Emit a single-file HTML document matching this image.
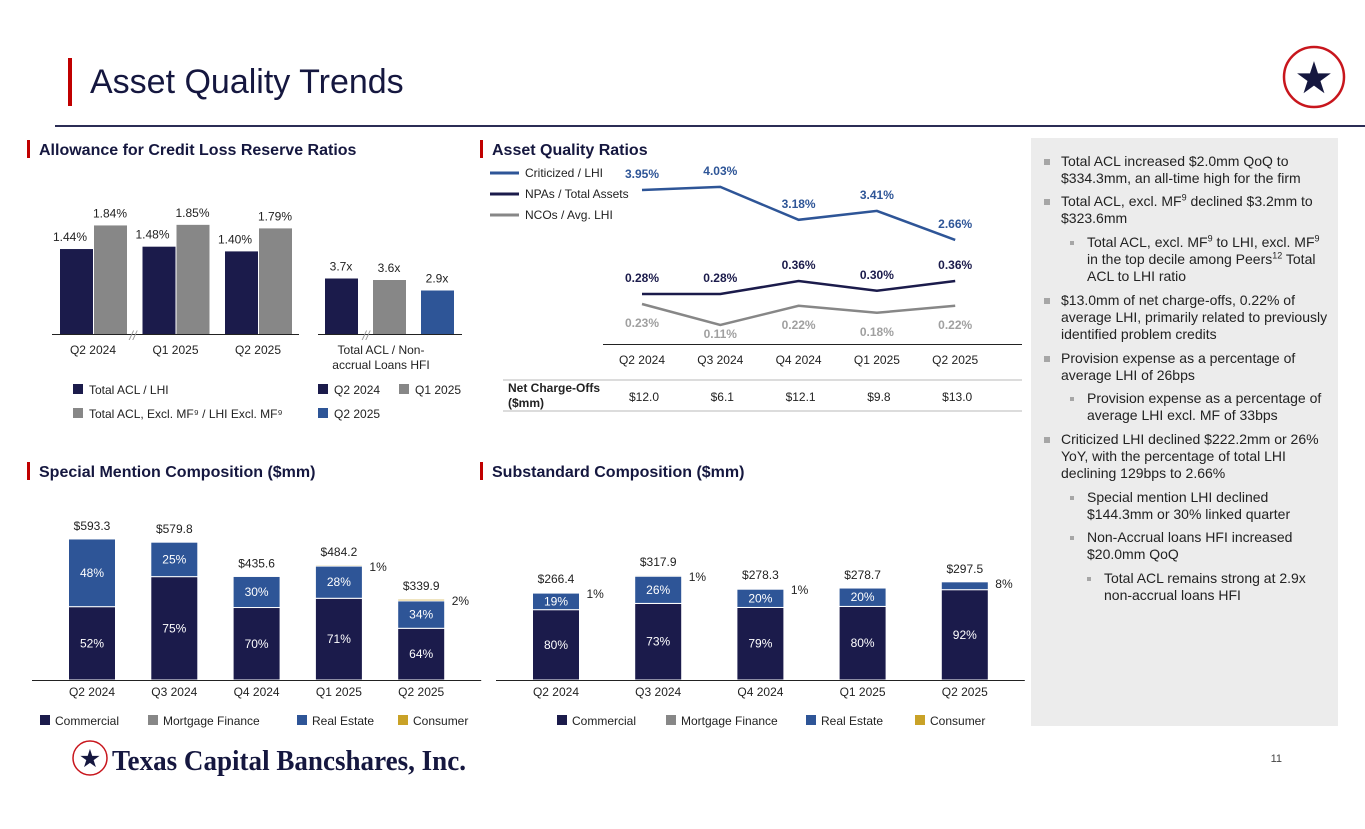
<!DOCTYPE html>
<html><head><meta charset="utf-8"><style>
html,body{margin:0;padding:0;background:#fff;}
body{width:1365px;height:829px;position:relative;overflow:hidden;font-family:"Liberation Sans",Arial,sans-serif;}
svg{position:absolute;left:0;top:0;}
.panel{position:absolute;left:1031px;top:138px;width:307px;height:588px;background:#ececec;}
.b{position:absolute;font-size:14px;line-height:17px;color:#222;}
.b:before{content:"";position:absolute;width:6px;height:6px;background:#a6a6a6;top:6px;}
.l1{left:30px;width:272px;} .l1:before{left:-17px;}
.l2{left:56px;width:246px;} .l2:before{left:-17px;width:4px;height:4px;top:7px;}
.l3{left:73px;width:230px;} .l3:before{left:-17px;width:4px;height:4px;top:7px;}
sup{font-size:9px;line-height:0;}
</style></head><body>
<svg id="s" width="1365" height="829" viewBox="0 0 1365 829" font-family="Liberation Sans, Arial, sans-serif">
  <rect x="68" y="58" width="4" height="48" fill="#c00000"/>
  <text x="90" y="93" font-size="34" fill="#15173f">Asset Quality Trends</text>
  <line x1="55" y1="126" x2="1365" y2="126" stroke="#2b2d55" stroke-width="2"/>
  <g>
    <circle cx="1314" cy="77" r="30" fill="#fff" stroke="#c8161d" stroke-width="2.5"/>
    <text x="1314" y="93" font-size="44" text-anchor="middle" fill="#15173f" font-family="DejaVu Sans, sans-serif">★</text>
  </g>
  <g font-size="16" font-weight="bold" fill="#15173f">
    <rect x="27" y="140" width="3" height="18" fill="#c00000"/><text x="39" y="155">Allowance for Credit Loss Reserve Ratios</text>
    <rect x="480" y="140" width="3" height="18" fill="#c00000"/><text x="492" y="155">Asset Quality Ratios</text>
    <rect x="27" y="462" width="3" height="18" fill="#c00000"/><text x="39" y="477">Special Mention Composition ($mm)</text>
    <rect x="480" y="462" width="3" height="18" fill="#c00000"/><text x="492" y="477">Substandard Composition ($mm)</text>
  </g>
  <g id="acl"></g><g id="aqr"></g><g id="sm"></g><g id="ss"></g>
  <g>
    <circle cx="90" cy="758" r="17" fill="#fff" stroke="#c8161d" stroke-width="1.5"/>
    <text x="90" y="767" font-size="25" text-anchor="middle" fill="#15173f" font-family="DejaVu Sans, sans-serif">★</text>
    <text x="112" y="770" font-size="29" font-weight="bold" fill="#15173f" font-family="Liberation Serif, serif" textLength="354" lengthAdjust="spacingAndGlyphs">Texas Capital Bancshares, Inc.</text>
  </g>
  <text x="1282" y="762" font-size="11" fill="#444" text-anchor="end">11</text>
</svg>
<div class="panel">
  <div class="b l1" style="top:15px">Total ACL increased $2.0mm QoQ to $334.3mm, an all-time high for the firm</div>
  <div class="b l1" style="top:55px">Total ACL, excl. MF<sup>9</sup> declined $3.2mm to $323.6mm</div>
  <div class="b l2" style="top:96px">Total ACL, excl. MF<sup>9</sup> to LHI, excl. MF<sup>9</sup> in the top decile among Peers<sup>12</sup> Total ACL to LHI ratio</div>
  <div class="b l1" style="top:154px">$13.0mm of net charge-offs, 0.22% of average LHI, primarily related to previously identified problem credits</div>
  <div class="b l1" style="top:212px">Provision expense as a percentage of average LHI of 26bps</div>
  <div class="b l2" style="top:252px">Provision expense as a percentage of average LHI excl. MF of 33bps</div>
  <div class="b l1" style="top:293px">Criticized LHI declined $222.2mm or 26% YoY, with the percentage of total LHI declining 129bps to 2.66%</div>
  <div class="b l2" style="top:351px">Special mention LHI declined $144.3mm or 30% linked quarter</div>
  <div class="b l2" style="top:391px">Non-Accrual loans HFI increased $20.0mm QoQ</div>
  <div class="b l3" style="top:432px">Total ACL remains strong at 2.9x non-accrual loans HFI</div>
</div>
<script>
// ---- ACL chart data ----
const aclCats = ["Q2 2024","Q1 2025","Q2 2025"];
const aclLhi = [1.44,1.48,1.40];
const aclExMf = [1.84,1.85,1.79];
const ncCats = ["Q2 2024","Q1 2025","Q2 2025"];
const ncVals = [3.7,3.6,2.9];
// ---- Asset quality ratios ----
const aqCats = ["Q2 2024","Q3 2024","Q4 2024","Q1 2025","Q2 2025"];
const critLhi = [3.95,4.03,3.18,3.41,2.66];
const npaTa = [0.28,0.28,0.36,0.30,0.36];
const ncoLhi = [0.23,0.11,0.22,0.18,0.22];
const ncoDollars = ["$12.0","$6.1","$12.1","$9.8","$13.0"];
// ---- Special mention ----
const smCats = ["Q2 2024","Q3 2024","Q4 2024","Q1 2025","Q2 2025"];
const smTotals = [593.3,579.8,435.6,484.2,339.9];
const smCommercial = [52,75,70,71,64];
const smRealEstate = [48,25,30,28,34];
const smConsumer = [0,0,0,1,2];
// ---- Substandard ----
const ssCats = ["Q2 2024","Q3 2024","Q4 2024","Q1 2025","Q2 2025"];
const ssTotals = [266.4,317.9,278.3,278.7,297.5];
const ssCommercial = [80,73,79,80,92];
const ssRealEstate = [19,26,20,20,8];
const ssConsumer = [1,1,1,0,0];

const NS="http://www.w3.org/2000/svg";
const NAVY="#1b1b4b",GRAY="#878787",BLUE="#2e5597",GOLD="#c9a227";
function mk(p,tag,a,txt){const e=document.createElementNS(NS,tag);for(const k in a)e.setAttribute(k,a[k]);if(txt!==undefined)e.textContent=txt;p.appendChild(e);return e;}

// ACL chart
(function(){
  const g=document.getElementById('acl');
  const base=334, k=59;
  const y=v=>base-v*k;
  const cx=i=>94+i*82.5;
  aclCats.forEach((c,i)=>{
    let r=mk(g,'rect',{x:cx(i)-34,y:y(aclLhi[i]),width:33,height:base-y(aclLhi[i]),fill:NAVY});
    
    
    r=mk(g,'rect',{x:cx(i),y:y(aclExMf[i]),width:33,height:base-y(aclExMf[i]),fill:GRAY});
    
    
    mk(g,'text',{x:cx(i)-34+17,y:y(aclLhi[i])-8,'font-size':12,'text-anchor':'end',dx:10,fill:'#222'},aclLhi[i].toFixed(2)+'%');
    mk(g,'text',{x:cx(i)+16,y:y(aclExMf[i])-8,'font-size':12,'text-anchor':'middle',fill:'#222'},aclExMf[i].toFixed(2)+'%');
    mk(g,'text',{x:cx(i)-1,y:354,'font-size':12,'text-anchor':'middle',fill:'#222'},c);
  });
  mk(g,'line',{x1:52,y1:base+0.5,x2:299,y2:base+0.5,stroke:'#222','stroke-width':1});
  mk(g,'text',{x:133,y:340,'font-size':13,'text-anchor':'middle',fill:'#999','font-style':'italic'},'//');
  const k2=15;
  const cols=[NAVY,GRAY,BLUE];
  ncVals.forEach((v,i)=>{
    const x=325+i*48;
    const r=mk(g,'rect',{x:x,y:base-v*k2,width:33,height:v*k2,fill:cols[i]});
    
    
    mk(g,'text',{x:x+16,y:base-v*k2-8,'font-size':12,'text-anchor':'middle',fill:'#222'},v.toFixed(1)+'x');
  });
  mk(g,'line',{x1:318,y1:base+0.5,x2:462,y2:base+0.5,stroke:'#222'});
  mk(g,'text',{x:366,y:340,'font-size':13,'text-anchor':'middle',fill:'#999','font-style':'italic'},'//');
  mk(g,'text',{x:381,y:354,'font-size':12,'text-anchor':'middle',fill:'#222'},'Total ACL / Non-');
  mk(g,'text',{x:381,y:369,'font-size':12,'text-anchor':'middle',fill:'#222'},'accrual Loans HFI');
  const leg=[[73,384,NAVY,'Total ACL / LHI'],[73,408,GRAY,'Total ACL, Excl. MF⁹ / LHI Excl. MF⁹'],[318,384,NAVY,'Q2 2024'],[399,384,GRAY,'Q1 2025'],[318,408,BLUE,'Q2 2025']];
  leg.forEach(l=>{
    const e=mk(g,'g',{});
    
    
    mk(e,'rect',{x:l[0],y:l[1],width:10,height:10,fill:l[2]});
    mk(e,'text',{x:l[0]+16,y:l[1]+10,'font-size':12,fill:'#222'},l[3]);
  });
})();

// Asset quality ratios
(function(){
  const g=document.getElementById('aqr');
  const x=i=>642+i*78.3;
  const yC=v=>190+(3.95-v)*38.7;
  const yN=v=>294-(v-0.28)*162;
  const yO=v=>304-(v-0.23)*175;
  function line(vals,f,col,name,lab,below){
    const p=mk(g,'polyline',{points:vals.map((v,i)=>x(i)+','+f(v)).join(' '),fill:'none',stroke:col,'stroke-width':2.5});
    
    
    vals.forEach((v,i)=>{
      const ty=below?Math.min(f(v)+23,338):f(v)-12;
      mk(g,'text',{x:x(i),y:ty,'font-size':12,'font-weight':'bold','text-anchor':'middle',fill:lab},v.toFixed(2)+'%');
    });
  }
  line(critLhi,yC,BLUE,'line-criticized-lhi',BLUE,false);
  line(npaTa,yN,NAVY,'line-npas-total-assets',NAVY,false);
  line(ncoLhi,yO,GRAY,'line-ncos-avg-lhi','#a0a0a0',true);
  mk(g,'line',{x1:603,y1:344.5,x2:1022,y2:344.5,stroke:'#222'});
  aqCats.forEach((c,i)=>{
    mk(g,'text',{x:x(i),y:364,'font-size':12,'text-anchor':'middle',fill:'#222'},c);
    mk(g,'text',{x:x(i)+2,y:401,'font-size':12,'text-anchor':'middle',fill:'#222'},ncoDollars[i]);
  });
  mk(g,'line',{x1:503,y1:380,x2:1022,y2:380,stroke:'#d0d0d0','stroke-width':1.5});
  mk(g,'line',{x1:503,y1:411,x2:1022,y2:411,stroke:'#d0d0d0','stroke-width':1.5});
  mk(g,'text',{x:508,y:392,'font-size':12,'font-weight':'bold',fill:'#222'},'Net Charge-Offs');
  mk(g,'text',{x:508,y:407,'font-size':12,'font-weight':'bold',fill:'#222'},'($mm)');
  [[BLUE,'Criticized / LHI',173],[NAVY,'NPAs / Total Assets',194],[GRAY,'NCOs / Avg. LHI',215]].forEach(l=>{
    const e=mk(g,'g',{});
    
    
    mk(e,'line',{x1:490,y1:l[2],x2:519,y2:l[2],stroke:l[0],'stroke-width':3});
    mk(e,'text',{x:525,y:l[2]+4,'font-size':12,fill:'#222'},l[1]);
  });
})();

function stacked(id,cats,totals,com,re,con,x0,step,k,legX){
  const g=document.getElementById(id);
  const base=680,w=47;
  const y=v=>base-v*k;
  cats.forEach((c,i)=>{
    const cx=x0+i*step;
    const segs=[[com[i],NAVY,'segment-commercial'],[re[i],BLUE,'segment-real-estate'],[con[i],GOLD,'segment-consumer']];
    let acc=0;
    segs.forEach(s=>{
      if(!s[0])return;
      const v=totals[i]*s[0]/100;
      const top=y(acc+v),bot=y(acc);
      const r=mk(g,'rect',{x:cx-w/2,y:top,width:w,height:Math.max(bot-top,1),fill:s[1],stroke:'#fff','stroke-width':1});
      
      
      const h=bot-top;
      if(s[1]!==GOLD && h>14) mk(g,'text',{x:cx,y:(top+bot)/2+4,'font-size':12,'text-anchor':'middle',fill:'#fff'},s[0]+'%');
      else if(s[1]!==NAVY) mk(g,'text',{x:cx+w/2+7,y:top+6,'font-size':12,fill:'#222'},s[0]+'%');
      acc+=v;
    });
    mk(g,'text',{x:cx,y:y(totals[i])-9,'font-size':12,'text-anchor':'middle',fill:'#222'},'$'+totals[i].toFixed(1));
    mk(g,'text',{x:cx,y:696,'font-size':12,'text-anchor':'middle',fill:'#222'},c);
  });
  mk(g,'line',{x1:x0-60,y1:base+0.5,x2:x0+4*step+60,y2:base+0.5,stroke:'#222'});
  [[NAVY,'Commercial'],[GRAY,'Mortgage Finance'],[BLUE,'Real Estate'],[GOLD,'Consumer']].forEach((l,j)=>{
    const e=mk(g,'g',{});
    
    
    mk(e,'rect',{x:legX[j],y:715,width:10,height:10,fill:l[0]});
    mk(e,'text',{x:legX[j]+15,y:725,'font-size':12,fill:'#222'},l[1]);
  });
}
stacked('sm',smCats,smTotals,smCommercial,smRealEstate,smConsumer,92,82.3,0.2377,[40,148,297,398]);
stacked('ss',ssCats,ssTotals,ssCommercial,ssRealEstate,ssConsumer,556,102.2,0.33,[557,666,806,915]);
</script>
</body></html>
